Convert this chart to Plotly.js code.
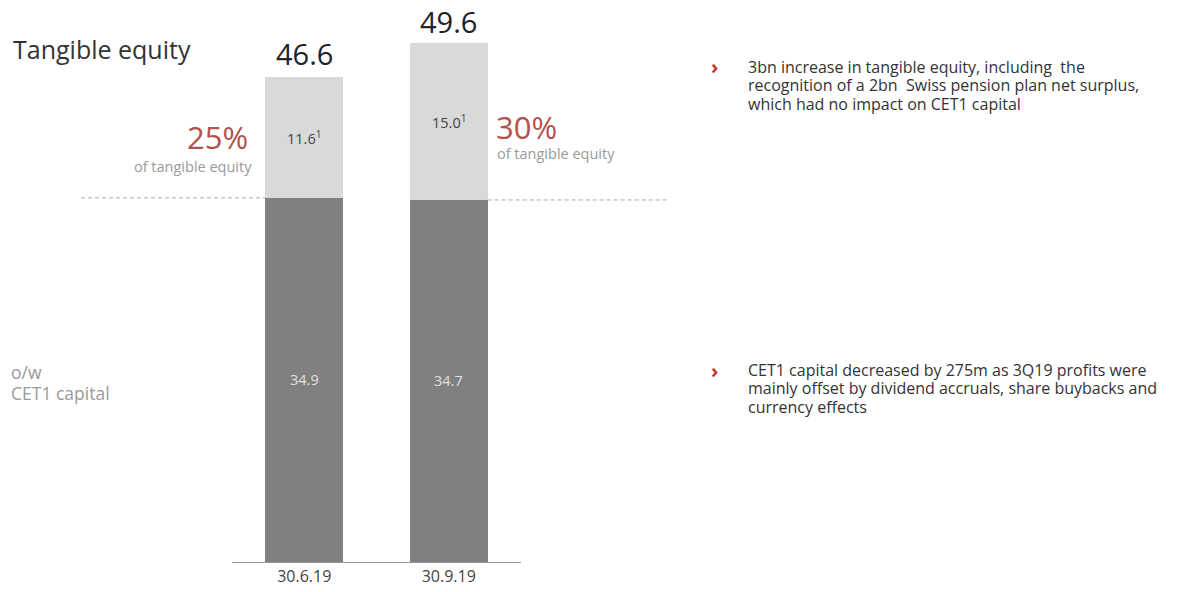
<!DOCTYPE html>
<html><head><meta charset="utf-8">
<script src="https://cdn.plot.ly/plotly-3.0.1.min.js"></script>
<style>html,body{margin:0;padding:0;background:#fff;}#chart{width:1202px;height:592px;}</style>
</head><body><div id="chart"></div>
<script>
const categories = ["30.6.19", "30.9.19"];
const cet1 = [34.9, 34.7];
const other = [11.6, 15.0];
const totals = [46.6, 49.6];
const shares = ["25%", "30%"];
const bullet1 = [
  "3bn increase in tangible equity, including  the",
  "recognition of a 2bn  Swiss pension plan net surplus,",
  "which had no impact on CET1 capital"
];
const bullet2 = [
  "CET1 capital decreased by 275m as 3Q19 profits were",
  "mainly offset by dividend accruals, share buybacks and",
  "currency effects"
];
const sideLabel = ["o/w", "CET1 capital"];

const FONT = "Open Sans, Noto Sans, sans-serif";
const traces = [
  {type:"bar", x:categories, y:cet1, marker:{color:"#808080"}, hoverinfo:"skip"},
  {type:"bar", x:categories, y:other, marker:{color:"#d9d9d9"}, hoverinfo:"skip"}
];

const ann = [];
categories.forEach((c,i)=>{
  ann.push({x:i, y:totals[i], xref:"x", yref:"y", text:totals[i].toFixed(1), showarrow:false,
    yanchor:"bottom", yshift:2, borderpad:0, font:{family:FONT, size:29, color:"#222"}});
  ann.push({x:i, y:cet1[i]+other[i]/2, xref:"x", yref:"y", text:other[i].toFixed(1)+"<sup>1</sup>", showarrow:false,
    font:{family:FONT, size:14.5, color:"#444"}});
  ann.push({x:i, y:cet1[i]/2, xref:"x", yref:"y", text:cet1[i].toFixed(1), showarrow:false,
    font:{family:FONT, size:14.5, color:"#e0e0e0"}});
});
// percent callouts
ann.push({x:0, y:cet1[0]+other[0]/2, xref:"x", yref:"y", xanchor:"right", xshift:-54, yshift:0, text:shares[0], showarrow:false,
  font:{family:FONT, size:31, color:"#b3524b"}});
ann.push({x:0, y:cet1[0]+other[0]/2, xref:"x", yref:"y", xanchor:"right", xshift:-50, yshift:-29, text:"of tangible equity", showarrow:false,
  font:{family:FONT, size:14.5, color:"#9a9a9a"}});
ann.push({x:1, y:cet1[1]+other[1]/2, xref:"x", yref:"y", xanchor:"left", xshift:45, yshift:-5, text:shares[1], showarrow:false,
  font:{family:FONT, size:31, color:"#b3524b"}});
ann.push({x:1, y:cet1[1]+other[1]/2, xref:"x", yref:"y", xanchor:"left", xshift:46, yshift:-32, text:"of tangible equity", showarrow:false,
  font:{family:FONT, size:14.5, color:"#9a9a9a"}});

// paper coords from plot area: left 231.5, width 290, top 9, height 553
function px(x){return (x-231.5)/290;}
function py(y){return (562-y)/553;}
ann.push({x:px(10), y:py(49), xref:"paper", yref:"paper", xanchor:"left", yanchor:"middle", text:"Tangible equity", showarrow:false,
  font:{family:FONT, size:25, color:"#333"}});
sideLabel.forEach((t,k)=>{
  ann.push({x:px(9), y:py(372+21*k), xref:"paper", yref:"paper", xanchor:"left", yanchor:"middle",
    text:t, showarrow:false, borderpad:0, font:{family:FONT, size:17.5, color:"#9a9a9a"}});
});
[[bullet1,67],[bullet2,370]].forEach(([lines,y0])=>{
  ann.push({x:px(710), y:py(y0), xref:"paper", yref:"paper", xanchor:"left", yanchor:"middle",
    text:"<b>›</b>", showarrow:false, font:{family:FONT, size:20, color:"#c0392b"}});
  lines.forEach((t,k)=>{
    ann.push({x:px(748), y:py(y0+18.3*k), xref:"paper", yref:"paper", xanchor:"left", yanchor:"middle",
      text:t, showarrow:false, borderpad:0, font:{family:FONT, size:16, color:"#333"}});
  });
});

const layout = {
  width:1202, height:592,
  margin:{l:231.5, r:680.5, t:9, b:30, pad:0},
  paper_bgcolor:"#fff", plot_bgcolor:"#fff",
  barmode:"stack", bargap:0.462, showlegend:false,
  xaxis:{type:"category", range:[-0.5,1.5], showline:true, linecolor:"#9a9a9a", linewidth:1,
    showgrid:false, zeroline:false, ticks:"", fixedrange:true,
    tickfont:{family:FONT, size:16, color:"#444"}},
  yaxis:{range:[0,53], visible:false, showgrid:false, zeroline:false, fixedrange:true},
  shapes:[
    {type:"line", xref:"paper", yref:"y", x0:px(80), x1:px(265), y0:cet1[0], y1:cet1[0], line:{color:"#aaa", width:1, dash:"4px,3px"}},
    {type:"line", xref:"paper", yref:"y", x0:px(488), x1:px(668), y0:cet1[1], y1:cet1[1], line:{color:"#aaa", width:1, dash:"4px,3px"}}
  ],
  annotations:ann
};

Plotly.newPlot("chart", traces, layout, {displayModeBar:false, staticPlot:true});
</script></body></html>
